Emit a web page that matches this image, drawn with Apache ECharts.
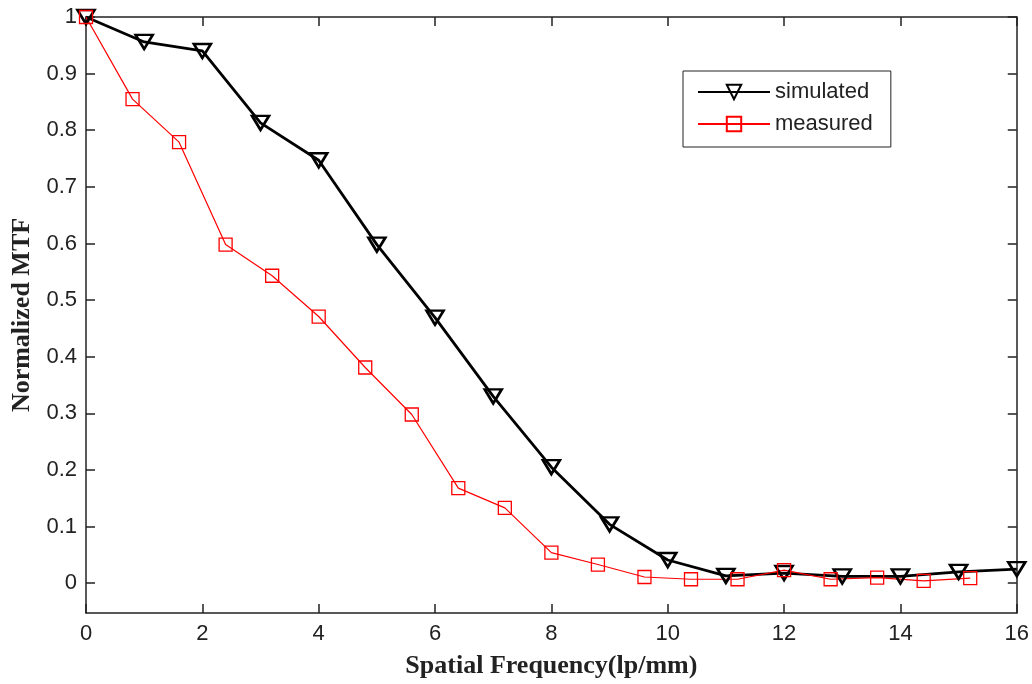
<!DOCTYPE html>
<html>
<head>
<meta charset="utf-8">
<script src="https://cdn.jsdelivr.net/npm/echarts@6/dist/echarts.min.js"></script>
<style>
html,body{margin:0;padding:0;background:#fff;}
#chart{width:1032px;height:684px;}
</style>
</head>
<body>
<div id="chart"></div>
<script>
// Data
const simX = [0, 1, 2, 3, 4, 5, 6, 7, 8, 9, 10, 11, 12, 13, 14, 15, 16];
const simY = [1.0, 0.956, 0.940, 0.813, 0.747, 0.598, 0.469, 0.330, 0.205, 0.104, 0.041, 0.013, 0.018, 0.012, 0.012, 0.020, 0.025];
const measX = [0, 0.8, 1.6, 2.4, 3.2, 4.0, 4.8, 5.6, 6.4, 7.2, 8.0, 8.8, 9.6, 10.4, 11.2, 12.0, 12.8, 13.6, 14.4, 15.2];
const measY = [1.0, 0.855, 0.779, 0.598, 0.543, 0.471, 0.381, 0.298, 0.168, 0.133, 0.054, 0.033, 0.011, 0.007, 0.007, 0.023, 0.007, 0.010, 0.004, 0.009];
const yTicks = [0, 0.1, 0.2, 0.3, 0.4, 0.5, 0.6, 0.7, 0.8, 0.9, 1];
const seriesNames = ['simulated', 'measured'];
const xTitle = 'Spatial Frequency(lp/mm)';
const yTitle = 'Normalized MTF';

const axisCol = '#222';
const tickFont = {fontFamily: 'Liberation Sans, Arial, sans-serif', fontSize: 22, color: axisCol};

const chart = echarts.init(document.getElementById('chart'), null, {renderer: 'canvas'});
const xBase = {
  type: 'value', min: 0, max: 16, interval: 2,
  axisLine: {show: true, onZero: false, lineStyle: {color: axisCol, width: 1.5}},
  axisTick: {show: true, inside: true, length: 9, lineStyle: {color: axisCol, width: 1.5}},
  splitLine: {show: false}
};
const yBase = {
  type: 'value', min: -0.0526, max: 1,
  axisLine: {show: true, onZero: false, lineStyle: {color: axisCol, width: 1.5}},
  axisTick: {show: true, inside: true, length: 9, customValues: yTicks, lineStyle: {color: axisCol, width: 1.5}},
  splitLine: {show: false}
};
chart.setOption({
  animation: false,
  backgroundColor: '#fff',
  grid: {left: 86, right: 13, top: 17, bottom: 67, containLabel: false},
  legend: {
    left: 683, top: 71, orient: 'vertical',
    data: seriesNames,
    itemWidth: 72, itemHeight: 18, itemGap: 10,
    padding: [10, 18, 12, 14],
    borderColor: axisCol, borderWidth: 1, backgroundColor: '#fff',
    textStyle: {fontFamily: 'Liberation Sans, Arial, sans-serif', fontSize: 22, lineHeight: 22, color: axisCol}
  },
  xAxis: [
    Object.assign({}, xBase, {
      position: 'bottom',
      axisLabel: Object.assign({show: true, margin: 10}, tickFont),
      name: xTitle, nameLocation: 'middle', nameGap: 40,
      nameTextStyle: {fontFamily: 'Liberation Serif, Times New Roman, serif', fontWeight: 'bold', fontSize: 26, color: axisCol}
    }),
    Object.assign({}, xBase, {position: 'top', axisLabel: {show: false}})
  ],
  yAxis: [
    Object.assign({}, yBase, {
      position: 'left',
      axisLabel: Object.assign({show: true, margin: 9, customValues: yTicks}, tickFont),
      name: yTitle, nameLocation: 'middle', nameGap: 49, nameRotate: 90,
      nameTextStyle: {fontFamily: 'Liberation Serif, Times New Roman, serif', fontWeight: 'bold', fontSize: 26, color: axisCol}
    }),
    Object.assign({}, yBase, {position: 'right', axisLabel: {show: false}})
  ],
  series: [
    {
      name: seriesNames[0], type: 'line', xAxisIndex: 0, yAxisIndex: 0,
      data: simX.map((x, i) => [x, simY[i]]),
      symbol: 'triangle', symbolRotate: 180, symbolSize: [17, 14], showAllSymbol: true,
      clip: false,
      lineStyle: {color: '#000', width: 2.8},
      itemStyle: {color: 'rgba(255,255,255,0)', borderColor: '#000', borderWidth: 2.6},
      emphasis: {disabled: true}
    },
    {
      name: seriesNames[1], type: 'line', xAxisIndex: 0, yAxisIndex: 0,
      data: measX.map((x, i) => [x, measY[i]]),
      symbol: 'rect', symbolSize: 13, showAllSymbol: true,
      clip: false,
      lineStyle: {color: '#ff0000', width: 1.2},
      itemStyle: {color: 'rgba(255,255,255,0)', borderColor: '#ff0000', borderWidth: 1.3},
      emphasis: {disabled: true}
    }
  ]
});
</script>
</body>
</html>
